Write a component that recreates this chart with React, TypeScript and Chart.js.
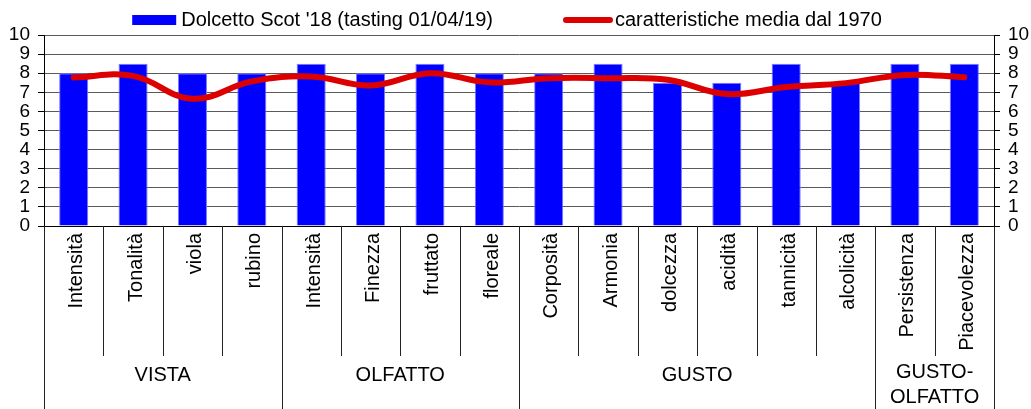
import React, { useEffect, useRef } from "react";
import { Chart, registerables } from "chart.js";

Chart.register(...registerables);

const categories = [
  "Intensità", "Tonalità", "viola", "rubino",
  "Intensità", "Finezza", "fruttato", "floreale",
  "Corposità", "Armonia", "dolcezza", "acidità", "tannicità", "alcolicità",
  "Persistenza", "Piacevolezza",
];
const groupNames = [["VISTA"], ["OLFATTO"], ["GUSTO"], ["GUSTO-", "OLFATTO"]];
const groupSizes = [4, 4, 6, 2];
const tastingScores = [8, 8.5, 8, 8, 8.5, 8, 8.5, 8, 8, 8.5, 7.5, 7.5, 8.5, 7.5, 8.5, 8.5];
const historicalMeans = [7.78, 7.86, 6.66, 7.57, 7.83, 7.36, 8.0, 7.52, 7.74, 7.74, 7.66, 6.91, 7.28, 7.48, 7.91, 7.79];
const barLabel = "Dolcetto Scot '18 (tasting 01/04/19)";
const lineLabel = "caratteristiche media dal 1970";
const yMin = 0;
const yMax = 10;

const FONT = "'Liberation Sans', Arial, sans-serif";
const BLUE = "#0000ff";
const RED = "#dd0000";

const customPlugin = {
  id: "customDecor",
  afterDraw(chart: any) {
    const ctx = chart.ctx;
    const area = chart.chartArea;
    const x = chart.scales.x;
    const H = chart.height;
    ctx.save();

    // legend
    ctx.font = `20px ${FONT}`;
    ctx.fillStyle = "#000";
    ctx.textBaseline = "middle";
    ctx.textAlign = "left";
    const ds = chart.data.datasets;
    const t1 = ds[0].label;
    const t2 = ds[1].label;
    const w1 = ctx.measureText(t1).width;
    const w2 = ctx.measureText(t2).width;
    const boxW = 44, gap1 = 5, itemGap = 70, lineW = 50, gap2 = 2;
    const total = boxW + gap1 + w1 + itemGap + lineW + gap2 + w2;
    let lx = 507 - total / 2;
    const ly = 20;
    ctx.fillStyle = ds[0].backgroundColor;
    ctx.fillRect(lx, ly - 5, boxW, 10);
    lx += boxW + gap1;
    ctx.fillStyle = "#000";
    ctx.fillText(t1, lx, ly);
    lx += w1 + itemGap;
    ctx.strokeStyle = ds[1].borderColor;
    ctx.lineWidth = 6;
    ctx.lineCap = "round";
    ctx.beginPath();
    ctx.moveTo(lx + 3, ly);
    ctx.lineTo(lx + lineW - 3, ly);
    ctx.stroke();
    lx += lineW + gap2;
    ctx.fillText(t2, lx, ly);

    // bottom axis line
    ctx.lineCap = "butt";
    ctx.strokeStyle = "#000";
    ctx.lineWidth = 1;
    const by = Math.round(area.bottom) + 0.5;
    ctx.beginPath();
    ctx.moveTo(area.left, by);
    ctx.lineTo(area.right, by);
    ctx.stroke();

    // separators
    const n = categories.length;
    const boundary = (i: number) => {
      if (i <= 0) return area.left;
      if (i >= n) return area.right;
      return (x.getPixelForValue(i - 1) + x.getPixelForValue(i)) / 2;
    };
    const groupStarts: number[] = [];
    let acc = 0;
    for (const s of groupSizes) { groupStarts.push(acc); acc += s; }
    const groupEdges = new Set<number>([...groupStarts, n]);
    ctx.strokeStyle = "#222";
    for (let i = 0; i <= n; i++) {
      const bx = Math.round(boundary(i)) + 0.5;
      const yEnd = groupEdges.has(i) ? H : 356;
      ctx.beginPath();
      ctx.moveTo(bx, area.bottom);
      ctx.lineTo(bx, yEnd);
      ctx.stroke();
    }

    // category labels (rotated)
    ctx.fillStyle = "#000";
    ctx.font = `20px ${FONT}`;
    ctx.textAlign = "right";
    ctx.textBaseline = "alphabetic";
    for (let i = 0; i < n; i++) {
      const cx = x.getPixelForValue(i);
      ctx.save();
      ctx.translate(cx + 8.5, area.bottom + 7);
      ctx.rotate(-Math.PI / 2);
      ctx.fillText(categories[i], 0, 0);
      ctx.restore();
    }

    // group labels
    ctx.textAlign = "center";
    ctx.textBaseline = "middle";
    groupNames.forEach((lines, g) => {
      const s = groupStarts[g];
      const e = s + groupSizes[g];
      const cx = (boundary(s) + boundary(e)) / 2;
      if (lines.length === 1) {
        ctx.fillText(lines[0], cx, 375);
      } else {
        lines.forEach((ln, k) => ctx.fillText(ln, cx, 372.5 + k * 25));
      }
    });

    ctx.restore();
  },
};

export default function App() {
  const ref = useRef<HTMLCanvasElement | null>(null);
  useEffect(() => {
    if (!ref.current) return;
    const chart = new Chart(ref.current, {
      type: "bar",
      data: {
        labels: categories,
        datasets: [
          {
            type: "bar",
            label: barLabel,
            data: tastingScores,
            backgroundColor: BLUE,
            borderColor: "#7a7aff",
            borderWidth: 1,
            barPercentage: 0.49,
            categoryPercentage: 1,
            order: 1,
            yAxisID: "y",
          } as any,
          {
            type: "line",
            label: lineLabel,
            data: historicalMeans,
            borderColor: RED,
            backgroundColor: RED,
            borderWidth: 6,
            borderCapStyle: "round",
            tension: 0.4,
            pointRadius: 0,
            fill: false,
            order: 0,
            yAxisID: "y",
          } as any,
        ],
      },
      options: {
        responsive: false,
        animation: false,
        layout: { padding: { top: 35, bottom: 183, left: 0, right: 0 } },
        plugins: {
          legend: { display: false },
          tooltip: { enabled: false },
        },
        scales: {
          x: {
            display: false,
            offset: true,
            grid: { display: false },
          },
          y: {
            position: "left",
            min: yMin,
            max: yMax,
            ticks: {
              stepSize: 1,
              autoSkip: false,
              color: "#000",
              padding: 8,
              font: { family: FONT, size: 19 },
            },
            grid: {
              color: "#5a5a5a",
              lineWidth: 1,
              drawTicks: true,
              tickLength: 6,
              tickColor: "#000",
            },
            border: { display: true, color: "#000", width: 1 },
            afterFit: (s: any) => { s.width = 44; },
          },
          y2: {
            position: "right",
            min: yMin,
            max: yMax,
            ticks: {
              stepSize: 1,
              autoSkip: false,
              color: "#000",
              padding: 8,
              font: { family: FONT, size: 19 },
            },
            grid: {
              drawOnChartArea: false,
              drawTicks: true,
              tickLength: 6,
              tickColor: "#000",
              color: "#000",
            },
            border: { display: true, color: "#000", width: 1 },
            afterFit: (s: any) => { s.width = 37; },
          },
        },
      } as any,
      plugins: [customPlugin],
    });
    return () => chart.destroy();
  }, []);
  return (
    <canvas
      ref={ref}
      width={1031}
      height={409}
      style={{ position: "absolute", left: 0, top: 0, display: "block", background: "#fff" }}
    />
  );
}
